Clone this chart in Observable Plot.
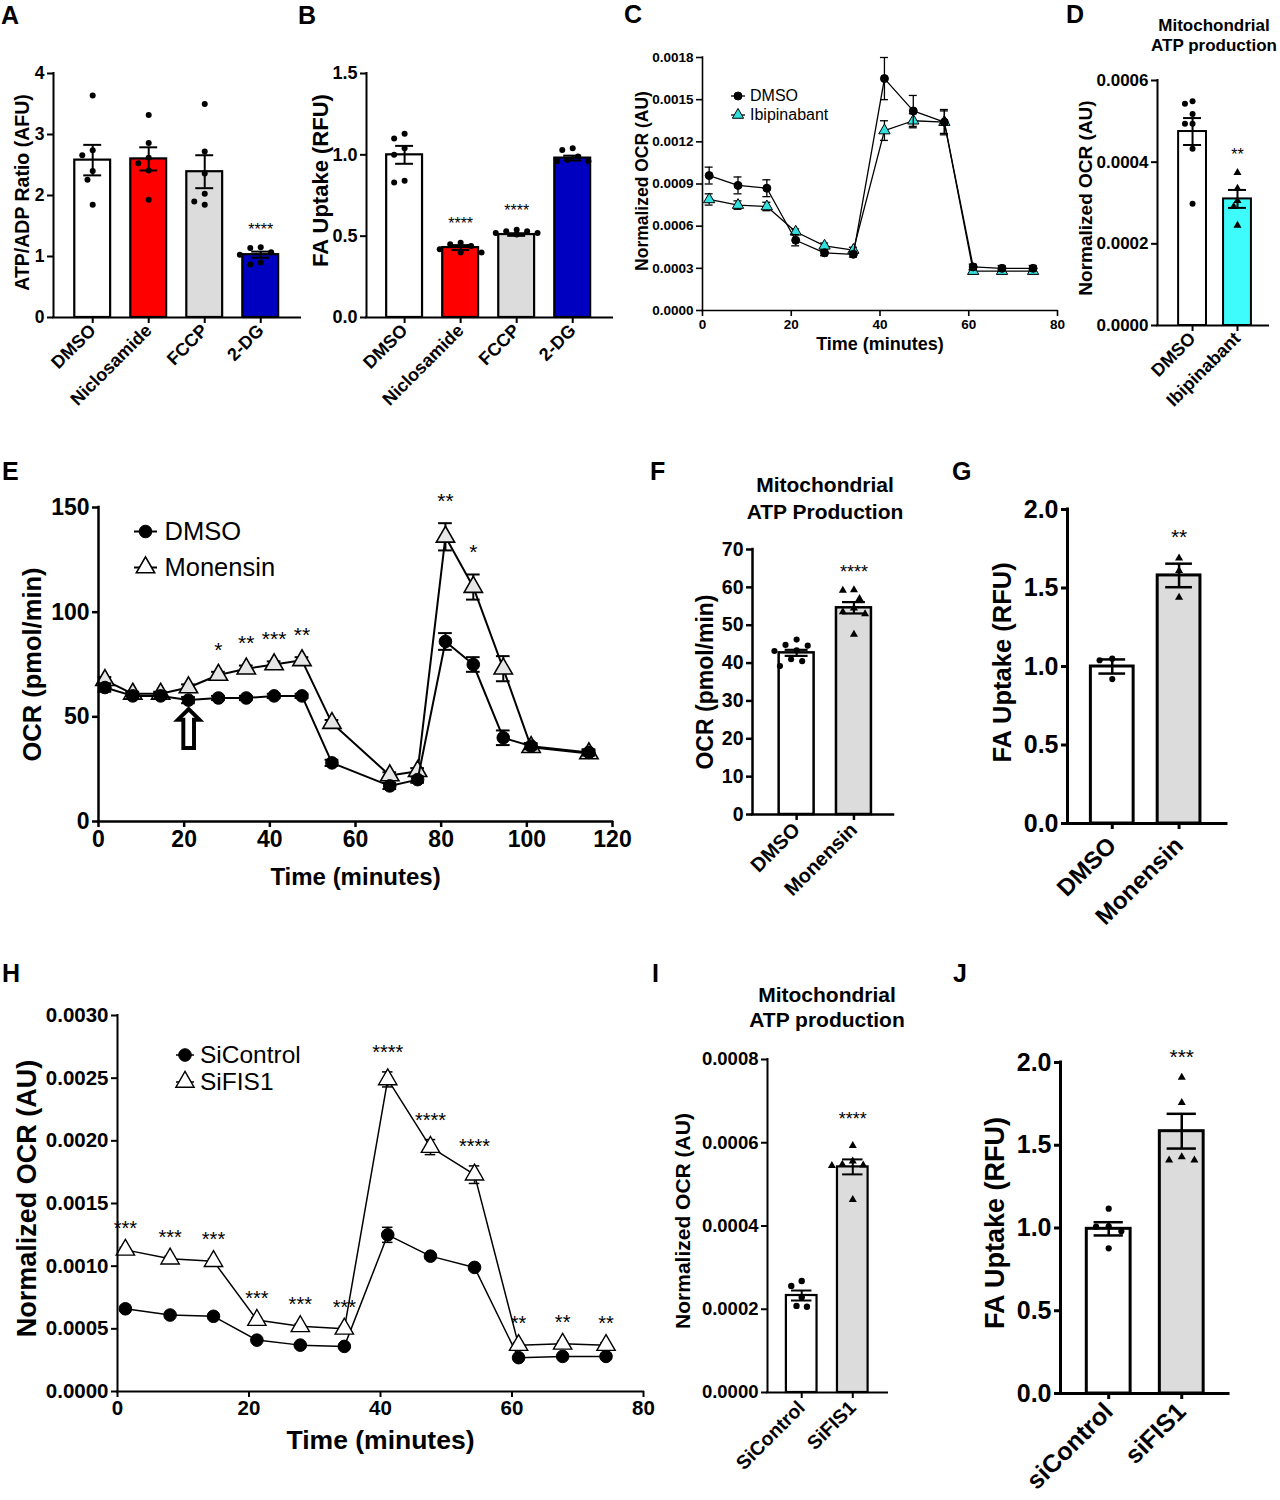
<!DOCTYPE html>
<html><head><meta charset="utf-8">
<script src="https://cdn.jsdelivr.net/npm/d3@7"></script>
<script src="https://cdn.jsdelivr.net/npm/@observablehq/plot@0.6"></script>
<style>
body{margin:0;background:#fff;}
#fig{position:relative;width:1280px;height:1500px;overflow:hidden;background:#fff;font-family:'Liberation Sans',Arial,Helvetica,sans-serif;color:#000;}
.letter{position:absolute;font-weight:bold;font-size:25px;line-height:1;transform:translateY(-50%);}
.title{position:absolute;font-weight:bold;text-align:center;white-space:nowrap;transform:translate(-50%,-50%);}
.leg{position:absolute;display:flex;align-items:center;white-space:nowrap;transform:translateY(-50%);}
</style></head>
<body><div id="fig"></div>
<script>
// ---------------- DATA ----------------
// Panel A
const catsA = ["DMSO", "Niclosamide", "FCCP", "2-DG"];
const meanA = [2.58, 2.60, 2.39, 1.03];
const semA = [0.25, 0.19, 0.27, 0.05];
const ptsA = [[3.64, 2.74, 2.66, 2.40, 2.26, 1.85], [3.32, 2.86, 2.62, 2.53, 2.41, 1.93], [3.50, 2.72, 2.36, 2.03, 1.90, 1.85], [1.15, 1.14, 1.07, 1.03, 0.90, 0.87]];
const starsA = ["", "", "", "****"];
// Panel B
const catsB = ["DMSO", "Niclosamide", "FCCP", "2-DG"];
const meanB = [1.00, 0.43, 0.51, 0.98];
const semB = [0.055, 0.015, 0.008, 0.015];
const ptsB = [[1.13, 1.10, 1.04, 1.00, 0.84, 0.83], [0.46, 0.45, 0.44, 0.42, 0.40, 0.40], [0.54, 0.53, 0.53, 0.52, 0.52, 0.51], [1.04, 1.03, 0.99, 0.97, 0.96, 0.96]];
const starsB = ["", "****", "****", ""];
// Panel C
const timeC = [1.5, 8, 14.5, 21, 27.5, 34, 41, 47.5, 54.5, 61, 67.5, 74.5];
const dmsoC = [0.00096, 0.00089, 0.00087, 0.00050, 0.00041, 0.00040, 0.00165, 0.00142, 0.00134, 0.00031, 0.00030, 0.00030];
const dmsoCerr = [0.00006, 0.00006, 0.00006, 0.00004, 0.00002, 0.00002, 0.00015, 0.00011, 0.00009, 0.00002, 0.00002, 0.00002];
const ibiC = [0.00079, 0.00075, 0.00074, 0.00056, 0.00046, 0.00043, 0.00128, 0.00135, 0.00134, 0.00028, 0.00028, 0.00028];
const ibiCerr = [0.00004, 0.00003, 0.00003, 0.00002, 0.00002, 0.00002, 0.00007, 0.00005, 0.00008, 0.00001, 0.00001, 0.00001];
// Panel D
const catsD = ["DMSO", "Ibipinabant"];
const meanD = [0.000475, 0.00031];
const semD = [0.000033, 0.000022];
const ptsD = [[0.000549, 0.000543, 0.000518, 0.000494, 0.000494, 0.000433, 0.000298], [0.000374, 0.000336, 0.000306, 0.000291, 0.000245]];
const starsD = ["", "**"];
// Panel E
const timeE = [1.5, 8, 14.5, 21, 28, 34.5, 41, 47.5, 54.5, 68, 74.5, 81, 87.5, 94.5, 101, 114.5];
const dmsoE = [64, 60, 60, 58, 59, 59, 60, 60, 28, 17, 20, 86, 75, 40, 36, 33];
const dmsoEerr = [2, 1.5, 1.5, 1.5, 1, 1, 1, 1, 1.5, 1.5, 1.5, 4, 3.5, 3.5, 1.5, 1.5];
const monE = [67.5, 61, 61, 64, 70, 73, 75, 77, 47, 22, 24, 136, 112, 73, 35.5, 32.5];
const monEerr = [1.5, 1, 1, 1.5, 1.5, 1.5, 1.5, 1.5, 1.5, 1.5, 1.5, 6.5, 6, 6, 1.5, 1.5];
const starsE = ["", "", "", "", "*", "**", "***", "**", "", "", "", "**", "*", "", "", ""];
const arrowE = {t: 21, v: 43};
// Panel F
const catsF = ["DMSO", "Monensin"];
const meanF = [42.7, 54.6];
const semF = [0.8, 1.5];
const ptsF = [[46.2, 44.8, 44.6, 43.4, 43.2, 41.0, 40.5, 39.2], [59.3, 59.2, 57.0, 54.5, 53.5, 53.0, 47.6]];
const starsF = ["", "****"];
// Panel G
const catsG = ["DMSO", "Monensin"];
const meanG = [1.00, 1.58];
const semG = [0.045, 0.075];
const ptsG = [[1.05, 1.04, 0.92], [1.69, 1.61, 1.44]];
const starsG = ["", "**"];
// Panel H
const timeH = [1.2, 8, 14.6, 21.2, 27.8, 34.5, 41.1, 47.6, 54.3, 61, 67.7, 74.3];
const ctrlH = [0.00066, 0.00061, 0.00060, 0.00041, 0.00037, 0.00036, 0.00125, 0.00108, 0.00099, 0.00027, 0.00028, 0.00028];
const ctrlHerr = [0.00002, 0.00002, 0.00002, 0.00001, 0.00001, 0.00001, 0.00006, 0.00002, 0.00002, 0.00001, 0.00001, 0.00001];
const fisH = [0.00113, 0.00106, 0.00104, 0.00057, 0.00052, 0.00050, 0.00249, 0.00195, 0.00173, 0.00037, 0.00038, 0.00037];
const fisHerr = [0.00002, 0.00002, 0.00002, 0.00002, 0.00002, 0.00002, 0.00006, 0.00006, 0.00007, 0.00002, 0.00002, 0.00002];
const starsH = ["***", "***", "***", "***", "***", "***", "****", "****", "****", "**", "**", "**"];
// Panel I
const catsI = ["SiControl", "SiFIS1"];
const meanI = [0.000233, 0.000542];
const semI = [0.000012, 0.000018];
const ptsI = [[0.000268, 0.000256, 0.000229, 0.000208, 0.000206], [0.000593, 0.000556, 0.000548, 0.000546, 0.000545, 0.000463]];
const starsI = ["", "****"];
// Panel J
const catsJ = ["siControl", "siFIS1"];
const meanJ = [0.995, 1.585];
const semJ = [0.04, 0.105];
const ptsJ = [[1.117, 1.01, 1.008, 0.98, 0.877], [1.91, 1.758, 1.43, 1.41, 1.41]];
const starsJ = ["", "***"];

// ---------------- HELPERS ----------------
const FONT = "'Liberation Sans', Arial, Helvetica, sans-serif";
const fig = document.getElementById("fig");

function put(el, left, top) {
  el.style.position = "absolute";
  el.style.left = left + "px";
  el.style.top = top + "px";
  fig.appendChild(el);
}

function swarm(vals, pxPerY, r, pxPerX) {
  const order = vals.map((v, i) => i).sort((a, b) => vals[b] - vals[a]);
  const placed = [], off = new Array(vals.length).fill(0);
  const d = 2 * r + 0.5;
  const cands = [0, -1, 1, -2, 2, -3, 3, -4, 4];
  for (const i of order) {
    const y = vals[i] * pxPerY;
    for (const c of cands) {
      const x = c * d * 0.55;
      if (placed.every(p => Math.hypot(p.x - x, p.y - y) >= d)) { off[i] = x / pxPerX; placed.push({x, y}); break; }
    }
  }
  return off;
}

function yLabelMark(c) {
  return Plot.text([c.yLabel], {frameAnchor: "left", textAnchor: "middle", lineAnchor: "middle", text: d => d, rotate: -90,
    dx: c.yLabelX - c.left, dy: c.yLabelDy || 0, fontSize: c.yLabelFont, fontWeight: "bold"});
}

function barPanel(c) {
  const fw = c.right - c.left, fh = c.bottom - c.top;
  const mL = 130, mR = 20, mT = 50, mB = 150;
  const n = c.cats.length;
  const xDom = [-c.padL, n - 1 + c.padR];
  const pxPerY = fh / (c.yDomain[1] - c.yDomain[0]);
  const pxPerX = fw / (xDom[1] - xDom[0]);
  const bars = c.cats.map((cat, i) => ({i, cat, mean: c.means[i], sem: c.sems[i], fill: c.fills[i], stars: c.stars[i],
    top: Math.max(c.means[i] + c.sems[i], ...c.points[i])}));
  const pts = [];
  c.points.forEach((vals, i) => {
    const off = swarm(vals, pxPerY, c.r, pxPerX);
    vals.forEach((v, j) => pts.push({x: i + off[j], y: v, symbol: c.symbols[i]}));
  });
  const svg = Plot.plot({
    width: fw + mL + mR, height: fh + mT + mB,
    marginLeft: mL, marginRight: mR, marginTop: mT, marginBottom: mB,
    x: {domain: xDom}, y: {domain: c.yDomain},
    color: {type: "identity"}, symbol: {type: "identity"},
    style: {fontFamily: FONT, fontWeight: "bold", color: "black", background: "transparent", overflow: "visible"},
    marks: [
      Plot.rect(bars, {x1: d => d.i - c.hw, x2: d => d.i + c.hw, y1: 0, y2: "mean", fill: "fill", stroke: "black", strokeWidth: c.sw}),
      Plot.ruleX(bars, {x: "i", y1: d => d.mean - d.sem, y2: d => d.mean + d.sem, strokeWidth: c.ew}),
      Plot.ruleY(bars, {y: d => d.mean + d.sem, x1: d => d.i - c.cap, x2: d => d.i + c.cap, strokeWidth: c.ew}),
      Plot.ruleY(bars, {y: d => d.mean - d.sem, x1: d => d.i - c.cap, x2: d => d.i + c.cap, strokeWidth: c.ew}),
      Plot.dot(pts, {x: "x", y: "y", r: d => d.symbol === "triangle" ? c.rt : c.r, symbol: "symbol", fill: "black", stroke: "none"}),
      Plot.text(bars.filter(d => d.stars), {x: "i", y: "top", text: "stars", dy: -c.starGap, fontSize: c.starSize, fontWeight: "normal"}),
      Plot.axisY({ticks: c.yTicks, tickFormat: d3.format(c.yFmt), tickSize: 6, strokeWidth: c.axW, fontSize: c.tickFont, tickPadding: 3, label: null}),
      Plot.axisX({ticks: d3.range(n), tickFormat: i => c.cats[i], tickRotate: -45, tickSize: 6, strokeWidth: c.axW, fontSize: c.xFont,
        tickPadding: c.xPad || 4, textAnchor: "end", label: null}),
      Plot.ruleY([c.yDomain[0]], {strokeWidth: c.axW, strokeLinecap: "square"}),
      Plot.ruleX([xDom[0]], {strokeWidth: c.axW, strokeLinecap: "square"}),
      yLabelMark(c)
    ]
  });
  put(svg, c.left - mL, c.top - mT);
}

function linePanel(c) {
  const fw = c.right - c.left, fh = c.bottom - c.top;
  const mL = 130, mR = 20, mT = 50, mB = 90;
  const marks = [];
  c.series.forEach(s => {
    const data = s.times.map((t, i) => ({t, v: s.vals[i], e: s.errs[i], star: s.stars ? s.stars[i] : ""}));
    marks.push(
      Plot.ruleX(data, {x: "t", y1: d => d.v - d.e, y2: d => d.v + d.e, strokeWidth: c.ew}),
      Plot.ruleY(data, {y: d => d.v + d.e, x1: d => d.t - c.cap, x2: d => d.t + c.cap, strokeWidth: c.ew}),
      Plot.ruleY(data, {y: d => d.v - d.e, x1: d => d.t - c.cap, x2: d => d.t + c.cap, strokeWidth: c.ew}),
      Plot.line(data, {x: "t", y: "v", strokeWidth: c.lw, stroke: "black"}),
      Plot.dot(data, {x: "t", y: "v", symbol: s.symbol, r: s.r, fill: s.fill, stroke: "black", strokeWidth: s.sw})
    );
    if (s.stars) marks.push(Plot.text(data.filter(d => d.star), {x: "t", y: d => d.v + d.e, text: "star", dy: -c.starGap, fontSize: c.starSize, fontWeight: "normal"}));
  });
  if (c.extra) marks.push(...c.extra);
  marks.push(
    Plot.axisY({ticks: c.yTicks, tickFormat: d3.format(c.yFmt), tickSize: 6, strokeWidth: c.axW, fontSize: c.tickFont, tickPadding: 3, label: null}),
    Plot.axisX({ticks: c.xTicks, tickFormat: d3.format("d"), tickSize: 6, strokeWidth: c.axW, fontSize: c.tickFont, tickPadding: 3, label: null}),
    Plot.ruleY([c.yDomain[0]], {strokeWidth: c.axW, strokeLinecap: "square"}),
    Plot.ruleX([c.xDomain[0]], {strokeWidth: c.axW, strokeLinecap: "square"}),
    yLabelMark(c),
    Plot.text([c.xLabel], {frameAnchor: "bottom", textAnchor: "middle", lineAnchor: "middle", text: d => d, dy: c.xLabelY - c.bottom, fontSize: c.xLabelFont, fontWeight: "bold"})
  );
  const svg = Plot.plot({
    width: fw + mL + mR, height: fh + mT + mB,
    marginLeft: mL, marginRight: mR, marginTop: mT, marginBottom: mB,
    x: {domain: c.xDomain}, y: {domain: c.yDomain},
    style: {fontFamily: FONT, fontWeight: "bold", color: "black", background: "transparent", overflow: "visible"},
    marks
  });
  put(svg, c.left - mL, c.top - mT);
}

function legend(items, c) {
  items.forEach((it, k) => {
    const div = document.createElement("div");
    div.className = "leg";
    const w = c.lineLen;
    const h = 2 * c.r + 6;
    const sym = it.symbol === "triangle" ? d3.symbolTriangle : d3.symbolCircle;
    const path = d3.symbol(sym, it.r * it.r * Math.PI)();
    div.innerHTML = `<svg width="${w}" height="${h}" style="overflow:visible"><line x1="0" x2="${w}" y1="${h / 2}" y2="${h / 2}" stroke="black" stroke-width="${c.lw}"/>` +
      `<path d="${path}" transform="translate(${w / 2},${h / 2})" fill="${it.fill}" stroke="black" stroke-width="${it.sw}"/></svg>` +
      `<span style="font-size:${c.fontSize}px;margin-left:${c.gap}px;font-family:${FONT}">${it.label}</span>`;
    put(div, c.x - w / 2, c.y + k * c.dy);
  });
}

function letter(t, x, y) {
  const d = document.createElement("div"); d.className = "letter"; d.textContent = t; put(d, x, y);
}
function title(lines, x, y, fs, lh) {
  const d = document.createElement("div"); d.className = "title";
  d.style.fontSize = fs + "px"; d.style.lineHeight = lh + "px";
  d.innerHTML = lines.join("<br>"); put(d, x, y);
}

// ---------------- PANELS ----------------
const fillsFour = ["#ffffff", "#ff0000", "#dcdcdc", "#0000c0"];
barPanel({left: 53, right: 300, top: 73, bottom: 317, cats: catsA, means: meanA, sems: semA, points: ptsA, stars: starsA,
  fills: fillsFour, symbols: ["circle", "circle", "circle", "circle"], yDomain: [0, 4], yTicks: [0, 1, 2, 3, 4], yFmt: "d",
  padL: 0.7, padR: 0.71, hw: 0.32, cap: 0.16, sw: 2.2, ew: 2, axW: 2, r: 4.5, rt: 4.5, tickFont: 17.5, xFont: 18,
  yLabel: "ATP/ADP Ratio (AFU)", yLabelFont: 19.5, yLabelX: 22, yLabelDy: -3, starSize: 16, starGap: 17});

barPanel({left: 366, right: 612, top: 73, bottom: 317, cats: catsB, means: meanB, sems: semB, points: ptsB, stars: starsB,
  fills: fillsFour, symbols: ["circle", "circle", "circle", "circle"], yDomain: [0, 1.5], yTicks: [0, 0.5, 1, 1.5], yFmt: ".1f",
  padL: 0.68, padR: 0.71, hw: 0.32, cap: 0.16, sw: 2.2, ew: 2, axW: 2, r: 4.5, rt: 4.5, tickFont: 18, xFont: 18,
  yLabel: "FA Uptake (RFU)", yLabelFont: 22, yLabelX: 320, yLabelDy: -15, starSize: 16, starGap: 19});

linePanel({left: 702, right: 1057, top: 57, bottom: 310, xDomain: [0, 80], xTicks: [0, 20, 40, 60, 80],
  yDomain: [0, 0.0018], yTicks: [0, 0.0003, 0.0006, 0.0009, 0.0012, 0.0015, 0.0018], yFmt: ".4f",
  tickFont: 13.5, axW: 1.6, lw: 1.3, ew: 1.3, cap: 0.9,
  yLabel: "Normalized OCR (AU)", yLabelFont: 17.5, yLabelX: 642, yLabelDy: -3, xLabel: "Time (minutes)", xLabelFont: 18, xLabelY: 344,
  series: [
    {times: timeC, vals: ibiC, errs: ibiCerr, symbol: "triangle", r: 4.2, fill: "#33dede", sw: 1},
    {times: timeC, vals: dmsoC, errs: dmsoCerr, symbol: "circle", r: 4, fill: "black", sw: 1}
  ]});
legend([{symbol: "circle", r: 4, fill: "black", sw: 1, label: "DMSO"}, {symbol: "triangle", r: 4.2, fill: "#33dede", sw: 1, label: "Ibipinabant"}],
  {x: 738, y: 96, dy: 19, lineLen: 14, r: 4, lw: 1.3, fontSize: 16, gap: 5});

barPanel({left: 1157, right: 1268, top: 80, bottom: 325, cats: catsD, means: meanD, sems: semD, points: ptsD, stars: starsD,
  fills: ["#ffffff", "#3ffcfc"], symbols: ["circle", "triangle"], yDomain: [0, 0.0006], yTicks: [0, 0.0002, 0.0004, 0.0006], yFmt: ".4f",
  padL: 0.78, padR: 0.69, hw: 0.31, cap: 0.2, sw: 2, ew: 2, axW: 2, r: 3.2, rt: 3.2, tickFont: 17, xFont: 18,
  yLabel: "Normalized OCR (AU)", yLabelFont: 19, yLabelX: 1085, yLabelDy: -5, starSize: 16, starGap: 18});
title(["Mitochondrial", "ATP production"], 1214, 36, 17, 20);

linePanel({left: 98, right: 612, top: 507, bottom: 821, xDomain: [0, 120], xTicks: [0, 20, 40, 60, 80, 100, 120],
  yDomain: [0, 150], yTicks: [0, 50, 100, 150], yFmt: "d",
  tickFont: 23, axW: 2.5, lw: 2, ew: 2, cap: 1.6, starSize: 21, starGap: 22,
  yLabel: "OCR (pmol/min)", yLabelFont: 25.5, yLabelX: 32, xLabel: "Time (minutes)", xLabelFont: 24, xLabelY: 877,
  series: [
    {times: timeE, vals: monE, errs: monEerr, symbol: "triangle", r: 6.8, fill: "#e6e6e6", sw: 1.6, stars: starsE},
    {times: timeE, vals: dmsoE, errs: dmsoEerr, symbol: "circle", r: 6.3, fill: "black", sw: 1}
  ],
  extra: [Plot.text([arrowE], {x: "t", y: "v", text: () => "\u21E7", fontSize: 58, fontFamily: "DejaVu Sans", fontWeight: "bold"})]
});
legend([{symbol: "circle", r: 6.3, fill: "black", sw: 1, label: "DMSO"}, {symbol: "triangle", r: 6.8, fill: "#ffffff", sw: 1.6, label: "Monensin"}],
  {x: 145, y: 531, dy: 36, lineLen: 23, r: 7, lw: 2, fontSize: 25.5, gap: 8});

barPanel({left: 752, right: 893, top: 549, bottom: 814, cats: catsF, means: meanF, sems: semF, points: ptsF, stars: starsF,
  fills: ["#ffffff", "#dcdcdc"], symbols: ["circle", "triangle"], yDomain: [0, 70], yTicks: [0, 10, 20, 30, 40, 50, 60, 70], yFmt: "d",
  padL: 0.77, padR: 0.69, hw: 0.305, cap: 0.2, sw: 2.5, ew: 2.2, axW: 2.5, r: 4.8, rt: 4.6, tickFont: 19.5, xFont: 20, xPad: 6,
  yLabel: "OCR (pmol/min)", yLabelFont: 23, yLabelX: 705, starSize: 18, starGap: 18});
title(["Mitochondrial", "ATP Production"], 825, 498, 21, 27);

barPanel({left: 1067, right: 1226, top: 509, bottom: 823, cats: catsG, means: meanG, sems: semG, points: ptsG, stars: starsG,
  fills: ["#ffffff", "#dcdcdc"], symbols: ["circle", "triangle"], yDomain: [0, 2], yTicks: [0, 0.5, 1, 1.5, 2], yFmt: ".1f",
  padL: 0.67, padR: 0.71, hw: 0.32, cap: 0.2, sw: 3, ew: 2.5, axW: 3, r: 5.5, rt: 5.2, tickFont: 25, xFont: 24, xPad: 12,
  yLabel: "FA Uptake (RFU)", yLabelFont: 25.5, yLabelX: 1002, yLabelDy: -4, starSize: 21, starGap: 21});

linePanel({left: 117, right: 643, top: 1015, bottom: 1391, xDomain: [0, 80], xTicks: [0, 20, 40, 60, 80],
  yDomain: [0, 0.003], yTicks: [0, 0.0005, 0.001, 0.0015, 0.002, 0.0025, 0.003], yFmt: ".4f",
  tickFont: 20.5, axW: 2, lw: 1.5, ew: 1.5, cap: 0.8, starSize: 20, starGap: 19,
  yLabel: "Normalized OCR (AU)", yLabelFont: 27, yLabelX: 27, yLabelDy: -5, xLabel: "Time (minutes)", xLabelFont: 26.5, xLabelY: 1440,
  series: [
    {times: timeH, vals: ctrlH, errs: ctrlHerr, symbol: "circle", r: 6.3, fill: "black", sw: 1},
    {times: timeH, vals: fisH, errs: fisHerr, symbol: "triangle", r: 6.8, fill: "#ffffff", sw: 1.4, stars: starsH}
  ]});
legend([{symbol: "circle", r: 6.3, fill: "black", sw: 1, label: "SiControl"}, {symbol: "triangle", r: 6.8, fill: "#ffffff", sw: 1.4, label: "SiFIS1"}],
  {x: 185, y: 1055, dy: 27, lineLen: 18, r: 7, lw: 1.5, fontSize: 24.5, gap: 6});

barPanel({left: 767, right: 887, top: 1059, bottom: 1392, cats: catsI, means: meanI, sems: semI, points: ptsI, stars: starsI,
  fills: ["#ffffff", "#dcdcdc"], symbols: ["circle", "triangle"], yDomain: [0, 0.0008], yTicks: [0, 0.0002, 0.0004, 0.0006, 0.0008], yFmt: ".4f",
  padL: 0.67, padR: 0.68, hw: 0.3, cap: 0.2, sw: 2.2, ew: 2, axW: 2, r: 4.5, rt: 4, tickFont: 18.5, xFont: 19.5, xPad: 6,
  yLabel: "Normalized OCR (AU)", yLabelFont: 21, yLabelX: 683, yLabelDy: -5, starSize: 18, starGap: 26});
title(["Mitochondrial", "ATP production"], 827, 1007, 21, 25);

barPanel({left: 1060, right: 1228, top: 1062, bottom: 1393, cats: catsJ, means: meanJ, sems: semJ, points: ptsJ, stars: starsJ,
  fills: ["#ffffff", "#dcdcdc"], symbols: ["circle", "triangle"], yDomain: [0, 2], yTicks: [0, 0.5, 1, 1.5, 2], yFmt: ".1f",
  padL: 0.66, padR: 0.64, hw: 0.3, cap: 0.2, sw: 3, ew: 2.5, axW: 3, r: 5.5, rt: 5.2, tickFont: 25, xFont: 25, xPad: 8,
  yLabel: "FA Uptake (RFU)", yLabelFont: 27, yLabelX: 995, yLabelDy: -5, starSize: 21, starGap: 20});

// Panel letters
[["A", 1, 15], ["B", 298, 15], ["C", 624, 14], ["D", 1066, 14], ["E", 2, 471], ["F", 650, 471], ["G", 952, 471], ["H", 2, 973], ["I", 652, 973], ["J", 953, 973]]
  .forEach(([t, x, y]) => letter(t, x, y));
</script>
</body></html>
